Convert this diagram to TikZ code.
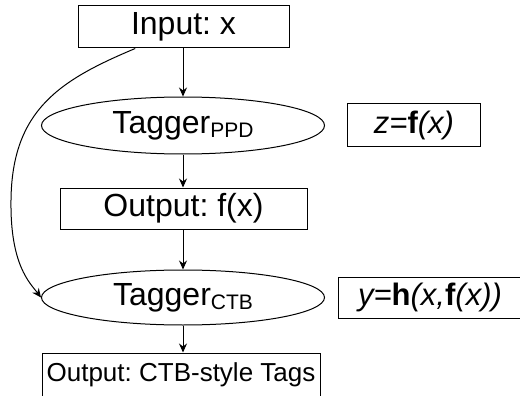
\documentclass[tikz,border=0pt]{standalone}
\usepackage{fontspec}
\setmainfont{Liberation Sans}
\usetikzlibrary{shapes.geometric,arrows.meta}
\frenchspacing

\tikzset{
  box/.style={draw,rectangle,inner sep=0pt,font=\fontsize{32}{38}\selectfont},
  tagger/.style={draw,ellipse,inner sep=0pt,minimum width=283pt,minimum height=57pt,font=\fontsize{32}{38}\selectfont},
}
\newcommand{\tagsub}[1]{\raisebox{-4pt}{\fontsize{21}{21}\selectfont #1}}

\begin{document}
\begin{tikzpicture}[x=1pt,y=-1pt,line width=1pt,>={Stealth[length=9pt,width=8pt]}]
    \useasboundingbox (0,0) rectangle (520,396);
    \clip (0,0) rectangle (520,396);

    \node[box,minimum width=211pt,minimum height=42pt](input) at (183.5,27){Input: x};
    \node[tagger](ppd) at (183,125.5){Tagger\tagsub{PPD}};
    \node[box,minimum width=133pt,minimum height=42pt,font=\fontsize{31}{37}\selectfont](zf) at (414,125){\textit{z=}\textbf{f}\textit{(x)}};
    \node[box,minimum width=247pt,minimum height=41pt](fx) at (183.5,208.5){Output: f(x)};
    \node[tagger,minimum height=55pt](ctb) at (183,297.5){Tagger\tagsub{CTB}};
    \node[box,minimum width=184pt,minimum height=41pt,font=\fontsize{31}{37}\selectfont](yh) at (430,297.5){\textit{y=}\textbf{h}\textit{(x,}\textbf{f}\textit{(x))}};
    \node[box,minimum width=278pt,minimum height=44pt,font=\fontsize{26}{31}\selectfont](tags) at (181,375){Output: CTB-style Tags};

    \draw[->](input.south-|ppd.north)--(ppd.north);
    \draw[->](ppd.south)--(ppd.south|-fx.north);
    \draw[->](ppd.south|-fx.south)--(ctb.north);
    \draw[->](ctb.south)--(ctb.south|-tags.north);

    % x goes straight on to the second tagger
    \draw[->](input.204) .. controls (60,80) and (12,110) .. (11,200)
        .. controls (10,265) and (30,283) .. (ctb.west);
\end{tikzpicture}
\end{document}
